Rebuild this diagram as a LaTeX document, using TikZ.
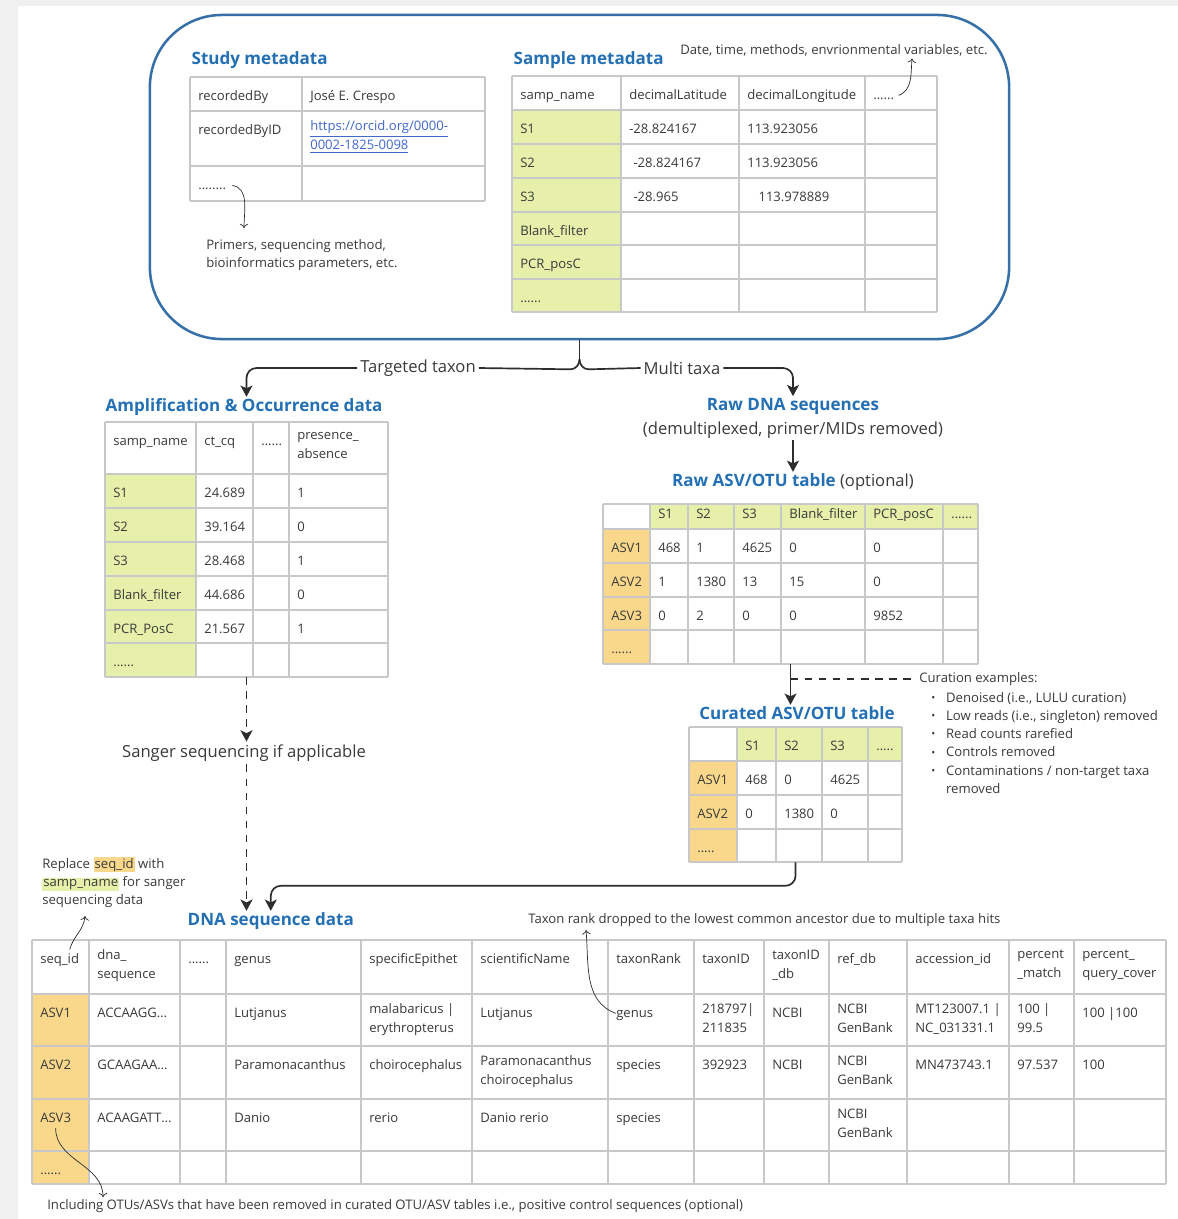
\documentclass[tikz,border=0pt]{standalone}
\usepackage{fontspec}
\setmainfont{Open Sans}
\usepackage{tikz}
\usetikzlibrary{arrows.meta,fit}

\definecolor{title-blue}{RGB}{36,112,180}
\definecolor{frame-blue}{RGB}{55,112,168}
\definecolor{green-cell}{RGB}{231,240,170}
\definecolor{orange-cell}{RGB}{249,216,140}
\definecolor{grid-gray}{RGB}{200,200,200}
\definecolor{text-gray}{RGB}{58,58,58}
\definecolor{link-blue}{RGB}{66,104,205}
\definecolor{line-dark}{RGB}{45,45,45}
\definecolor{page-gray}{RGB}{240,240,240}
\setlength{\fboxsep}{0.8pt}

\newcommand{\cellfont}{\fontsize{9.3pt}{13.5pt}\selectfont}
\newcommand{\notefont}{\fontsize{9.35pt}{13pt}\selectfont}
\newcommand{\titlefont}{\fontsize{12.1pt}{14.5pt}\selectfont\bfseries}
\newcommand{\stepfont}{\fontsize{11.8pt}{15pt}\selectfont}
\newcommand{\etcdots}{......}
\newcommand{\fewdots}{.....}
\newcommand{\curitem}{\makebox[10.5pt][l]{\raisebox{0.6pt}{\scalebox{0.8}{\textbullet}}}}
\newcommand{\gridlines}[6]{%
  \foreach \gx in {#1} {\draw[grid-line] (\gx,#5) -- (\gx,#6);}
  \foreach \gy in {#2} {\draw[grid-line] (#3,\gy) -- (#4,\gy);}
}

\tikzset{
    meta-frame/.style = {draw=frame-blue, line width=1.8pt, rectangle, rounded corners=1.8cm, minimum width=21.475cm, minimum height=8.1cm},
    table-box/.style = {inner sep=0pt, draw=none},
    grid-line/.style = {draw=grid-gray, line width=0.8pt},
    cell-text/.style = {anchor=north west, inner sep=0pt, xshift=0.2cm, yshift=-0.24cm, font=\cellfont, text=text-gray, align=left, execute at begin node=\strut},
    table-title/.style = {font=\titlefont, text=title-blue, inner sep=1pt},
    step-text/.style = {font=\stepfont, text=text-gray, inner sep=2pt},
    note-text/.style = {font=\notefont, text=text-gray, inner sep=0pt, align=left},
    conn/.style = {draw=line-dark, line width=1.2pt},
    conn-arrow/.style = {conn, -{Stealth[length=8pt,width=8.5pt,inset=2pt]}},
    dash-arrow/.style = {conn-arrow, dash pattern=on 5.5pt off 4.5pt},
    dash-line/.style = {draw=line-dark, line width=0.9pt, dash pattern=on 5.5pt off 4.5pt},
    note-arrow/.style = {draw=line-dark, line width=0.5pt, -{To[length=3pt,width=6pt]}},
}

\begin{document}
\begin{tikzpicture}[x=0.025cm, y=-0.025cm]
\useasboundingbox (0,0) rectangle (1178,1219);
\fill[page-gray] (0,0) rectangle (1178,1219);
\fill[white] (18,6) rectangle (1178,1219);

% metadata frame
\node[meta-frame] (meta) at (579.5,177) {};

% study metadata
\node[table-title, anchor=west] (study-title) at (190,60) {Study metadata};
\node[table-box, fit={(190,77) (485,201)}] (study) {};
\gridlines{190,302,485}{77,111,166,201}{190}{485}{77}{201}
\node[cell-text] (study-1-1) at (190,77) {recordedBy};
\node[cell-text] (study-1-2) at (302,77) {José E. Crespo};
\node[cell-text] (study-2-1) at (190,111) {recordedByID};
\node[cell-text] (study-2-2) at (302,111) {\textcolor{link-blue}{\underline{https://orcid.org/0000-}}\\\textcolor{link-blue}{\underline{0002-1825-0098}}};
\node[cell-text] (study-3-1) at (190,166) {........};
\node[note-text, anchor=north west] (primer-note) at (206,236) {\strut Primers, sequencing method,\\bioinformatics parameters, etc.};
\draw[note-arrow] ([xshift=0.15cm]study-3-1.east) to[out=-10,in=90] ([xshift=0.95cm,yshift=0.2cm]primer-note.north west);

% sample metadata
\node[table-title, anchor=west] (sample-title) at (512,60) {Sample metadata};
\node[note-text, anchor=west] (sample-note) at (680,50) {Date, time, methods, envrionmental variables, etc.};
\node[table-box, fit={(512,76) (937,312)}] (sample) {};
\fill[green-cell] (512,110) rectangle (621,312);
\gridlines{512,621,739,865,937}{76,110,144,178,212,245,279,312}{512}{937}{76}{312}
\foreach \x/\txt [count=\col] in {512/samp\_name, 621/decimalLatitude, 739/decimalLongitude, 865/\etcdots}
  \node[cell-text] (sample-1-\col) at (\x,76) {\txt};
\foreach \y/\a/\b/\d [count=\row from 2] in {110/S1/-28.824167/113.923056, 144/S2/{\hspace{3pt}-28.824167}/113.923056, 178/S3/{\hspace{3pt}-28.965}/{\hspace{8pt}113.978889}} {
  \node[cell-text] (sample-\row-1) at (512,\y) {\a};
  \node[cell-text] (sample-\row-2) at (621,\y) {\b};
  \node[cell-text] (sample-\row-3) at (739,\y) {\d};
}
\foreach \y/\a [count=\row from 5] in {212/Blank\_filter, 245/PCR\_posC, 279/\etcdots}
  \node[cell-text] (sample-\row-1) at (512,\y) {\a};
\draw[note-arrow] ([xshift=0.1cm]sample-1-4.east) to[out=20,in=-95] ([xshift=1.95cm,yshift=-0.06cm]sample-note.south);

% split into two routes
\node[step-text] (targeted) at (418,368) {Targeted taxon};
\node[step-text] (multi) at (682,368) {Multi taxa};
\draw[conn] (meta.south) -- ++(0,19) coordinate (split);
\draw[conn] (split) to[out=-90,in=0] ++(-9,10) -- (targeted.east);
\draw[conn] (split) to[out=-90,in=180] ++(9,10) -- (multi.west);

% amplification table
\node[table-title, anchor=west] (amp-title) at (104,407) {Amplification \& Occurrence data};
\node[table-box, fit={(105,422) (388,677)}] (amp) {};
\fill[green-cell] (105,474) rectangle (196,677);
\gridlines{105,196,253,289,388}{422,474,508,542,576,610,643,677}{105}{388}{422}{677}
\foreach \x/\txt [count=\col] in {105/samp\_name, 196/ct\_cq, 253/\etcdots, 289/{presence\_\\absence}}
  \node[cell-text] (amp-1-\col) at (\x,422) {\txt};
\foreach \y/\a/\b/\d [count=\row from 2] in {474/S1/24.689/1, 508/S2/39.164/0, 542/S3/28.468/1, 576/Blank\_filter/44.686/0, 610/PCR\_PosC/21.567/1} {
  \node[cell-text] (amp-\row-1) at (105,\y) {\a};
  \node[cell-text] (amp-\row-2) at (196,\y) {\b};
  \node[cell-text] (amp-\row-3) at (289,\y) {\d};
}
\node[cell-text] (amp-7-1) at (105,643) {\etcdots};
\draw[conn-arrow, rounded corners=0.25cm] (targeted.west) -| (amp.south |- amp-title.north);

% raw sequences
\node[table-title] (raw-dna) at (793,406) {Raw DNA sequences};
\node[step-text, inner sep=1pt] (raw-sub) at (793,430) {(demultiplexed, primer/MIDs removed)};
\node[step-text, inner sep=1pt] (raw-title) at (793,482) {\textcolor{title-blue}{\titlefont Raw ASV/OTU table} (optional)};
\draw[conn-arrow, rounded corners=0.25cm] (multi.east) -| (raw-dna.north);
\draw[conn-arrow] (raw-sub.south) -- (raw-title.north);

% raw table
\node[table-box, fit={(603,504) (978,664)}] (raw) {};
\fill[green-cell] (650,504) rectangle (978,529);
\fill[orange-cell] (603,529) rectangle (650,664);
\gridlines{603,650,688,734,781,865,943,978}{504,529,563,597,630,664}{603}{978}{504}{664}
\foreach \x/\txt [count=\col] in {650/S1, 688/S2, 734/S3, 781/Blank\_filter, 865/PCR\_posC, 943/\etcdots}
  \node[cell-text] (raw-1-\col) at (\x,495) {\txt};
\foreach \y/\a/\b/\d/\e/\f/\g [count=\row from 2] in {529/ASV1/468/1/4625/0/0, 563/ASV2/1/1380/13/15/0, 597/ASV3/0/2/0/0/9852} {
  \node[cell-text] (raw-\row-1) at (603,\y) {\a};
  \node[cell-text] (raw-\row-2) at (650,\y) {\b};
  \node[cell-text] (raw-\row-3) at (688,\y) {\d};
  \node[cell-text] (raw-\row-4) at (734,\y) {\e};
  \node[cell-text] (raw-\row-5) at (781,\y) {\f};
  \node[cell-text] (raw-\row-6) at (865,\y) {\g};
}
\node[cell-text] (raw-5-1) at (603,630) {\etcdots};

% curated table
\node[table-title] (cur-title) at (797,713) {Curated ASV/OTU table};
\node[table-box, fit={(689,727) (902,862)}] (cur) {};
\fill[green-cell] (737,727) rectangle (902,761);
\fill[orange-cell] (689,761) rectangle (737,862);
\gridlines{689,737,776,822,868,902}{727,761,795,829,862}{689}{902}{727}{862}
\foreach \x/\txt [count=\col] in {737/S1, 776/S2, 822/S3, 868/\fewdots}
  \node[cell-text] (cur-1-\col) at (\x,727) {\txt};
\foreach \y/\a/\b/\d/\e [count=\row from 2] in {761/ASV1/468/0/4625, 795/ASV2/0/1380/0} {
  \node[cell-text] (cur-\row-1) at (689,\y) {\a};
  \node[cell-text] (cur-\row-2) at (737,\y) {\b};
  \node[cell-text] (cur-\row-3) at (776,\y) {\d};
  \node[cell-text] (cur-\row-4) at (822,\y) {\e};
}
\node[cell-text] (cur-4-1) at (689,829) {\fewdots};
\draw[conn-arrow] (raw.south) -- coordinate[pos=0.42] (cur-split) (raw.south |- cur-title.north);

% curation examples
\node[note-text, anchor=west] (cur-head) at (919,679) {Curation examples:};
\node[note-text, anchor=north west] (cur-list) at (931,689) {\strut\curitem Denoised (i.e., LULU curation)\\\curitem Low reads (i.e., singleton) removed\\\curitem Read counts rarefied\\\curitem Controls removed\\\curitem Contaminations / non-target taxa\\\hspace*{10.5pt}removed};
\draw[dash-line] (cur-split |- cur-head.west) -- ([xshift=-0.15cm]cur-head.west);

% sanger route
\node[step-text] (sanger) at (244,753) {Sanger sequencing if applicable};
\draw[dash-arrow] (amp.south) -- (amp.south |- sanger.north);

% dna sequence data
\node[table-title, anchor=west] (dna-title) at (186,921) {DNA sequence data};
\draw[dash-arrow] (amp.south |- sanger.south) -- (amp.south |- dna-title.north);
\draw[conn-arrow, rounded corners=0.25cm] (cur.south) |- ([yshift=0.625cm]dna-title.north) -- (dna-title.north);

\node[table-box, fit={(32,940) (1166,1184)}] (seq) {};
\fill[orange-cell] (32,994) rectangle (89,1184);
\gridlines{32,89,180,226,361,472,608,694,764,829,907,1009,1074,1166}{940,994,1046,1099,1151,1184}{32}{1166}{940}{1184}
\foreach \x/\txt [count=\col] in {32/seq\_id, 89/{dna\_\\sequence}, 180/\etcdots, 226/genus, 361/specificEpithet, 472/scientificName, 608/taxonRank, 694/taxonID, 764/{taxonID\\\_db}, 829/ref\_db, 907/accession\_id, 1009/{percent\\\_match}, 1074/{percent\_\\query\_cover}}
  \node[cell-text] (seq-1-\col) at (\x,940) {\txt};
\foreach \x/\txt [count=\col] in {32/ASV1, 89/ACCAAGG\ldots, 226/Lutjanus, 361/{malabaricus |\\erythropterus}, 472/Lutjanus, 608/genus, 694/{218797|\\211835}, 764/NCBI, 829/{NCBI\\GenBank}, 907/{MT123007.1 |\\NC\_031331.1}, 1009/{100 |\\99.5}, 1074/{100 |100}}
  \node[cell-text] (seq-2-\col) at (\x,994) {\txt};
\foreach \x/\txt [count=\col] in {32/ASV2, 89/GCAAGAA\ldots, 226/Paramonacanthus, 361/choirocephalus, 472/{Paramonacanthus\\choirocephalus}, 608/species, 694/392923, 764/NCBI, 829/{NCBI\\GenBank}, 907/MN473743.1, 1009/97.537, 1074/100}
  \node[cell-text] (seq-3-\col) at (\x,1046) {\txt};
\foreach \x/\txt [count=\col] in {32/ASV3, 89/ACAAGATT\ldots, 226/Danio, 361/rerio, 472/Danio rerio, 608/species, 829/{NCBI\\GenBank}}
  \node[cell-text] (seq-4-\col) at (\x,1099) {\txt};
\node[cell-text] (seq-5-1) at (32,1151) {\etcdots};

% notes around the sequence table
\node[note-text, anchor=north west] (replace-note) at (42,855) {\strut Replace \colorbox{orange-cell}{seq\_id} with\\\colorbox{green-cell}{samp\_name} for sanger\\sequencing data};
\node[note-text, anchor=west] (rank-note) at (528,920) {Taxon rank dropped to the lowest common ancestor due to multiple taxa hits};
\node[note-text, anchor=west] (incl-note) at (47,1206) {Including OTUs/ASVs that have been removed in curated OTU/ASV tables i.e., positive control sequences (optional)};
\draw[note-arrow] ([xshift=0.25cm]seq-1-1.north) to[out=75,in=-95] ([xshift=1.075cm,yshift=-0.2cm]replace-note.south west);
\draw[note-arrow] (seq-2-6.west) to[out=160,in=-85] ([xshift=1.45cm,yshift=-0.08cm]rank-note.south west);
\draw[note-arrow] (seq-4-1.south) to[out=-90,in=90] ([xshift=1.4cm,yshift=0.05cm]incl-note.north west);
\end{tikzpicture}
\end{document}
